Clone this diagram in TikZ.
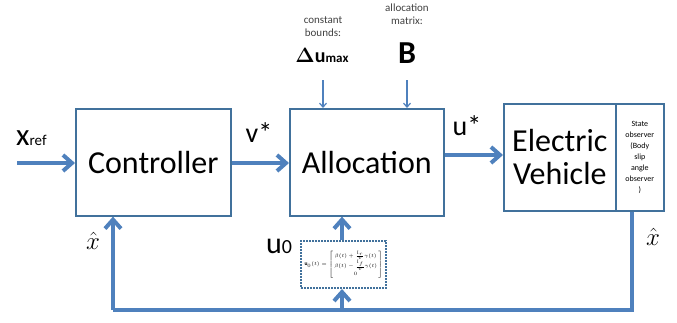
\documentclass[tikz,border=0pt]{standalone}
\usepackage{amsmath}
\usepackage{fontspec}
\setmainfont{Carlito}
\usetikzlibrary{arrows.meta}
\definecolor{arrblue}{HTML}{4F81BD}
\definecolor{boxblue}{HTML}{41719C}
\definecolor{smallgray}{HTML}{404040}
\tikzset{
  blk/.style={draw=boxblue, line width=1.6pt, minimum width=155pt, minimum height=107pt, inner sep=0pt, font=\fontsize{32}{36}\selectfont},
  bigarrow/.style={draw=arrblue, line width=4pt, -{Straight Barb[length=9pt, width=16pt, line width=4pt]}},
  feed/.style={draw=arrblue, line width=4pt},
  thinarrow/.style={draw=arrblue, line width=1.2pt, -{Straight Barb[length=4pt, width=7pt, line width=1.2pt]}},
  smalllbl/.style={font=\fontsize{11}{13}\selectfont, text=smallgray, align=center, inner sep=0pt},
  siglbl/.style={font=\fontsize{28}{32}\selectfont, inner sep=0pt},
}
\begin{document}
\begin{tikzpicture}[x=1pt, y=-1pt]
\useasboundingbox (0,0) rectangle (677,322);
% blocks
\node[blk, anchor=north west] (ctrl) at (75,108) {Controller};
\node[blk, anchor=north west, minimum width=154pt] (alloc) at (289,108) {Allocation};
\node[blk, anchor=north west, minimum width=112pt, minimum height=107pt, align=center, font=\fontsize{32}{33}\selectfont] (ev) at (503,103) {Electric\\Vehicle};
\node[draw=boxblue, line width=1.6pt, anchor=north west, minimum width=48pt, minimum height=107pt, inner sep=0pt, align=center, font=\fontsize{8}{11}\selectfont, text width=46pt] (obs) at (615,103) {State\\observer\\(Body\\slip\\angle\\observer\\)};
% dotted box
\node[draw=boxblue, line width=2pt, densely dotted, minimum width=85pt, minimum height=47pt, inner sep=0pt, anchor=north west] (u0box) at (300,240) {\fontsize{5.5}{7}\selectfont$\mathbf{u}_0(t)=\left[\begin{array}{@{\,}c@{\,}}\beta(t)+\frac{l_r}{v}\gamma(t)\\[1pt] \beta(t)-\frac{l_f}{v}\gamma(t)\\[1pt] 0\end{array}\right]$};
% input
\coordinate (xin) at (17,163);
\draw[bigarrow] (xin) -- (ctrl.west |- xin);
\node[anchor=base west, inner sep=0pt] (xref) at (16,145) {\fontsize{31}{34}\selectfont x\fontsize{15}{17}\selectfont ref};
% v*
\draw[bigarrow] (ctrl.east |- xin) -- (alloc.west |- xin);
\node[siglbl] (vstar) at (259,133) {v*};
% u*
\coordinate (uy) at (0,155);
\draw[bigarrow] (alloc.east |- uy) -- (ev.west |- uy);
\node[siglbl] (ustar) at (467,126) {u*};
% feedback
\coordinate (fr) at (632,310);
\coordinate (fl) at (113,310);
\coordinate (fm) at (342,310);
\draw[feed, line join=miter] (obs.south -| fr) -- (fr) -- (fl);
\draw[bigarrow] (fl) -- (fl |- ctrl.south);
\draw[bigarrow] (fm) -- (u0box.south -| fm);
\draw[bigarrow] (u0box.north -| fm) -- (alloc.south -| fm);
\node[inner sep=0pt] (xhatl) at (93,241) {\fontsize{26}{30}\selectfont$\hat{x}$};
\node[inner sep=0pt] (xhatr) at (653,237) {\fontsize{26}{30}\selectfont$\hat{x}$};
\node[anchor=base west, inner sep=0pt] (u0lbl) at (266,253) {\fontsize{30}{34}\selectfont u\fontsize{20}{22}\selectfont 0};
% top inputs
\coordinate (dtop) at (323,80);
\coordinate (btop) at (407,80);
\draw[thinarrow] (dtop) -- (alloc.north -| dtop);
\draw[thinarrow] (btop) -- (alloc.north -| btop);
\node[smalllbl] (cb) at (323,27) {constant\\bounds:};
\node[smalllbl] (am) at (407,14) {allocation\\matrix:};
\node[inner sep=0pt, anchor=base] (du) at (322,62) {\bfseries\fontsize{20}{24}\selectfont$\boldsymbol{\Delta}$u\fontsize{13}{15}\selectfont max};
\node[inner sep=0pt, anchor=base] (bm) at (407,63) {\bfseries\fontsize{32}{36}\selectfont B};
\end{tikzpicture}
\end{document}
